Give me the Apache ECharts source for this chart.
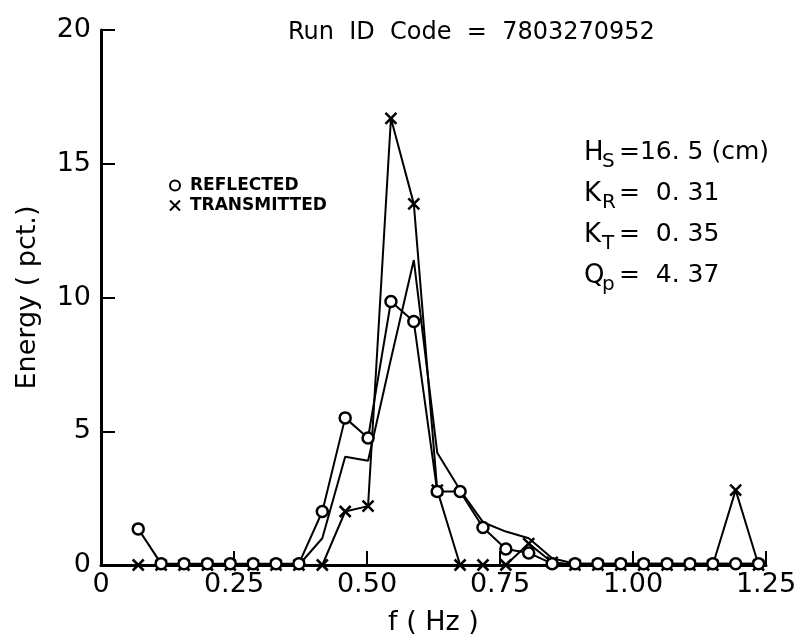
<!DOCTYPE html>
<html>
<head>
<meta charset="utf-8">
<script src="https://cdn.jsdelivr.net/npm/echarts@6/dist/echarts.min.js"></script>
<style>
  html, body { margin: 0; padding: 0; background: #fff; }
  #chart { width: 794px; height: 643px; }
</style>
</head>
<body>
<div id="chart"></div>
<script>
// Frequency bands (Hz)
const freqs = [0.070, 0.113, 0.156, 0.200, 0.243, 0.286, 0.329, 0.372, 0.416, 0.459,
               0.502, 0.545, 0.588, 0.632, 0.675, 0.718, 0.761, 0.804, 0.848, 0.891,
               0.934, 0.977, 1.020, 1.064, 1.107, 1.150, 1.193, 1.236];

// Energy (pct.) per band
const reflected = [1.35, 0.05, 0.05, 0.05, 0.05, 0.05, 0.05, 0.05, 2.0, 5.5,
                   4.75, 9.85, 9.1, 2.75, 2.75, 1.4, 0.6, 0.45, 0.05, 0.05,
                   0.05, 0.05, 0.05, 0.05, 0.05, 0.05, 0.05, 0.05];
const transmitted = [0, 0, 0, 0, 0, 0, 0, 0, 0, 2.0,
                     2.2, 16.7, 13.5, 2.8, 0, 0, 0, 0.8, 0.1, 0,
                     0, 0, 0, 0, 0, 0, 2.8, 0];
const unmarked = [0, 0, 0, 0, 0, 0, 0, 0, 1.0, 4.05,
                  3.9, 7.7, 11.4, 4.2, 2.8, 1.6, 1.25, 1.0, 0.25, 0.05,
                  0.05, 0.05, 0.05, 0.05, 0.05, 0.05, 0.05, 0.05];

const xTicks = ['0', '0.25', '0.50', '0.75', '1.00', '1.25'];
const yTicks = ['0', '5', '10', '15', '20'];

const runTitle = 'Run  ID  Code  =  7803270952';
const stats = [
  { main: 'H', sub: 'S', rest: ' =16. 5 (cm)' },
  { main: 'K', sub: 'R', rest: ' =  0. 31' },
  { main: 'K', sub: 'T', rest: ' =  0. 35' },
  { main: 'Q', sub: 'p', rest: ' =  4. 37' }
];

const FONT = 'DejaVu Sans';
const crossPath = 'path://M0,0L10,10M10,0L0,10';

const pair = arr => arr.map((v, i) => [freqs[i], v]);

const chart = echarts.init(document.getElementById('chart'), null, { renderer: 'canvas' });

// Right-hand statistics block: main letter, subscript, value
const statGraphics = [];
stats.forEach((s, i) => {
  const y0 = 140 + i * 41;
  statGraphics.push({
    type: 'text', left: 584, top: y0,
    style: { text: s.main, font: '26px ' + FONT, fill: '#000' }
  });
  statGraphics.push({
    type: 'text', left: 602, top: y0 + 12,
    style: { text: s.sub, font: '20px ' + FONT, fill: '#000' }
  });
  statGraphics.push({
    type: 'text', left: 611, top: y0,
    style: { text: s.rest, font: '25px ' + FONT, fill: '#000' }
  });
});

chart.setOption({
  backgroundColor: '#fff',
  animation: false,
  title: {
    text: runTitle,
    left: 283, top: 16,
    textStyle: { fontFamily: FONT, fontSize: 24, fontWeight: 'normal', color: '#000' }
  },
  legend: {
    data: [
      { name: 'REFLECTED', icon: 'circle' },
      { name: 'TRANSMITTED', icon: crossPath }
    ],
    orient: 'vertical',
    left: 164, top: 172,
    itemWidth: 10, itemHeight: 10, itemGap: 3,
    selectedMode: false,
    textStyle: { fontFamily: FONT, fontSize: 17, fontWeight: 'bold', color: '#000', padding: [0, 0, 0, 5] }
  },
  grid: { left: 101, right: 28, top: 30, bottom: 78, containLabel: false, outerBoundsMode: 'none' },
  xAxis: {
    type: 'value',
    min: 0, max: 1.25, interval: 0.25,
    name: 'f ( Hz )',
    nameLocation: 'middle', nameGap: 44,
    nameTextStyle: { fontFamily: FONT, fontSize: 27, color: '#000' },
    axisLine: { lineStyle: { color: '#000', width: 3 } },
    axisTick: { inside: true, length: 14, lineStyle: { color: '#000', width: 2 } },
    axisLabel: {
      fontFamily: FONT, fontSize: 27, color: '#000', margin: 6,
      formatter: v => xTicks[Math.round(v / 0.25)]
    },
    splitLine: { show: false }
  },
  yAxis: {
    type: 'value',
    min: 0, max: 20, interval: 5,
    name: 'Energy ( pct.)',
    nameLocation: 'middle', nameGap: 60,
    nameTextStyle: { fontFamily: FONT, fontSize: 27, color: '#000' },
    axisLine: { show: true, lineStyle: { color: '#000', width: 3 } },
    axisTick: { show: true, inside: true, length: 14, lineStyle: { color: '#000', width: 2 } },
    axisLabel: {
      fontFamily: FONT, fontSize: 27, color: '#000', margin: 10,
      formatter: v => yTicks[Math.round(v / 5)]
    },
    splitLine: { show: false }
  },
  graphic: statGraphics,
  series: [
    {
      name: 'unmarked',
      type: 'line',
      data: pair(unmarked),
      showSymbol: false,
      lineStyle: { color: '#000', width: 2 },
      z: 2
    },
    {
      name: 'TRANSMITTED',
      type: 'line',
      data: pair(transmitted),
      symbol: crossPath,
      symbolSize: 11,
      itemStyle: { color: '#000', borderColor: '#000', borderWidth: 2.5 },
      lineStyle: { color: '#000', width: 2 },
      z: 3
    },
    {
      name: 'REFLECTED',
      type: 'line',
      data: pair(reflected),
      symbol: 'circle',
      symbolSize: 11,
      itemStyle: { color: '#fff', borderColor: '#000', borderWidth: 2.5 },
      lineStyle: { color: '#000', width: 2 },
      z: 4
    }
  ]
});
</script>
</body>
</html>
